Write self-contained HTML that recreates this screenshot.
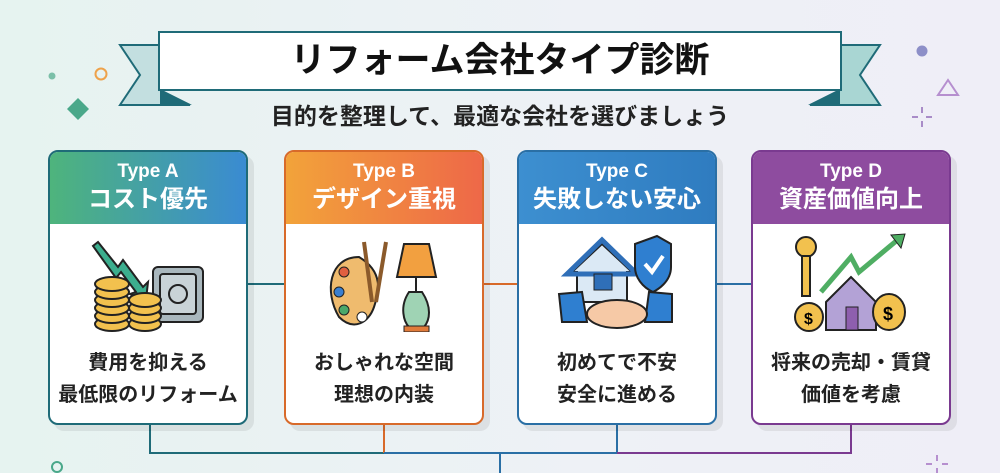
<!DOCTYPE html>
<html><head><meta charset="utf-8"><style>
body{margin:0;width:1000px;height:473px;overflow:hidden;background:linear-gradient(90deg,#e6f3f0,#eef1f6 60%,#efeef7);font-family:"Liberation Sans","Noto Sans CJK JP",sans-serif;position:relative}
.abs{position:absolute}
.title{left:158px;top:31px;width:680px;height:56px;background:#fff;border:2px solid #1f6b78;text-align:center;font-size:35px;font-weight:bold;line-height:56px;color:#111}
.sub{left:0;width:1000px;top:97px;text-align:center;font-size:23px;font-weight:bold;color:#222}
.card{width:196px;height:271px;background:#fff;border:2px solid;border-radius:10px;overflow:hidden;box-shadow:6px 6px 0 rgba(0,0,0,0.07)}
.hd{height:72px;color:#fff;text-align:center;font-weight:bold}
.hd .t{font-size:19px;padding-top:9px;line-height:22px}
.hd .n{font-size:24px;line-height:34px}
.bd{text-align:center;font-size:20px;font-weight:bold;color:#222;line-height:32px;position:absolute;top:195px;width:100%}
.ic{position:absolute;top:80px;left:38px}
</style></head><body>
<svg class="abs" style="left:0;top:0" width="1000" height="473">
<polygon points="120,45 160,45 160,90 190,105 120,105 140,75" fill="#c3dfe0" stroke="#1f6b78" stroke-width="2"/>
<polygon points="160,90 192,105 160,105" fill="#1f6b78"/>
<polygon points="880,45 840,45 840,90 810,105 880,105 860,75" fill="#a9d6d3" stroke="#1f6b78" stroke-width="2"/>
<polygon points="840,90 808,105 840,105" fill="#1f6b78"/>
<circle cx="52" cy="76" r="3.5" fill="#7bbfa8"/>
<circle cx="101" cy="74" r="5.5" fill="none" stroke="#eea24b" stroke-width="2"/>
<polygon points="78,98 89,109 78,120 67,109" fill="#4aa88a"/>
<circle cx="922" cy="51" r="5.5" fill="#8d8fc8"/>
<polygon points="948,80 958,95 938,95" fill="none" stroke="#b68fcf" stroke-width="2"/>
<g stroke="#a98cc8" stroke-width="2"><line x1="922" y1="107" x2="922" y2="113"/><line x1="922" y1="121" x2="922" y2="127"/><line x1="912" y1="117" x2="918" y2="117"/><line x1="926" y1="117" x2="932" y2="117"/></g>
<circle cx="57" cy="467" r="5" fill="none" stroke="#4aa88a" stroke-width="2"/>
<g stroke="#b68fcf" stroke-width="2"><line x1="937" y1="455" x2="937" y2="461"/><line x1="937" y1="468" x2="937" y2="473"/><line x1="926" y1="464" x2="932" y2="464"/><line x1="942" y1="464" x2="948" y2="464"/></g>
<line x1="248" y1="284" x2="286" y2="284" stroke="#1f6b78" stroke-width="2"/>
<line x1="484" y1="284" x2="518" y2="284" stroke="#d86a2a" stroke-width="2"/>
<line x1="716" y1="284" x2="752" y2="284" stroke="#2a6fa5" stroke-width="2"/>
<g fill="none" stroke-width="2">
<polyline points="150,425 150,453 384,453" stroke="#1f6b78"/>
<polyline points="384,425 384,453" stroke="#d86a2a"/>
<polyline points="384,453 617,453 617,425" stroke="#2a6fa5"/>
<polyline points="617,453 851,453 851,425" stroke="#7a3a90"/>
<line x1="500" y1="453" x2="500" y2="473" stroke="#2a6fa5"/>
</g>
</svg>
<div class="abs title">リフォーム会社タイプ診断</div>
<div class="abs sub">目的を整理して、最適な会社を選びましょう</div>

<div class="abs card" style="left:48px;top:150px;border-color:#1f6b78">
<div class="hd" style="background:linear-gradient(90deg,#4eb47c,#3a8bd2)"><div class="t">Type A</div><div class="n">コスト優先</div></div>
<svg class="ic" width="130" height="105" viewBox="0 0 130 105">
<polygon points="10,10 30,35 35,28 55,55 60,50 58,68 42,62 48,60 33,40 28,46 5,14" fill="#3cae8e" stroke="#222" stroke-width="2"/>
<rect x="65" y="35" width="50" height="55" rx="5" fill="#a9b7bd" stroke="#222" stroke-width="2"/>
<rect x="72" y="42" width="36" height="40" rx="3" fill="#c9d3d7" stroke="#222" stroke-width="2"/>
<circle cx="90" cy="62" r="9" fill="none" stroke="#222" stroke-width="2"/>
<g fill="#f2c14e" stroke="#222" stroke-width="2">
<ellipse cx="24" cy="92" rx="17" ry="7"/><ellipse cx="24" cy="84" rx="17" ry="7"/><ellipse cx="24" cy="76" rx="17" ry="7"/><ellipse cx="24" cy="68" rx="17" ry="7"/><ellipse cx="24" cy="60" rx="17" ry="7"/><ellipse cx="24" cy="52" rx="17" ry="7"/>
<ellipse cx="57" cy="92" rx="16" ry="7"/><ellipse cx="57" cy="84" rx="16" ry="7"/><ellipse cx="57" cy="76" rx="16" ry="7"/><ellipse cx="57" cy="68" rx="16" ry="7"/></g>
</svg>
<div class="bd">費用を抑える<br>最低限のリフォーム</div></div>

<div class="abs card" style="left:284px;top:150px;border-color:#d86a2a">
<div class="hd" style="background:linear-gradient(90deg,#f2a33a,#ee6848)"><div class="t">Type B</div><div class="n">デザイン重視</div></div>
<svg class="ic" width="120" height="100" viewBox="0 0 120 100">
<path d="M35 25 C5 25 0 60 15 85 C30 100 45 90 50 75 C55 60 60 40 35 25Z" fill="#efbb6e" stroke="#222" stroke-width="2"/>
<circle cx="15" cy="60" r="5" fill="#3a7fd0" stroke="#222"/><circle cx="20" cy="40" r="5" fill="#e06040" stroke="#222"/><circle cx="20" cy="78" r="5" fill="#4aa86a" stroke="#222"/><circle cx="38" cy="85" r="5" fill="#fff" stroke="#222"/>
<line x1="40" y1="10" x2="48" y2="70" stroke="#8b5a2b" stroke-width="4"/><line x1="62" y1="10" x2="52" y2="70" stroke="#8b5a2b" stroke-width="4"/>
<polygon points="80,12 105,12 112,45 73,45" fill="#f2a040" stroke="#222" stroke-width="2"/>
<line x1="92" y1="45" x2="92" y2="60" stroke="#222" stroke-width="2"/>
<path d="M85 60 C75 75 80 90 85 95 L100 95 C106 88 108 75 98 60Z" fill="#9fd3b4" stroke="#222" stroke-width="2"/>
<rect x="80" y="94" width="25" height="6" fill="#e07b3a" stroke="#222"/>
</svg>
<div class="bd">おしゃれな空間<br>理想の内装</div></div>

<div class="abs card" style="left:517px;top:150px;border-color:#2a6fa5">
<div class="hd" style="background:linear-gradient(90deg,#3d8fd0,#2f7cc0)"><div class="t">Type C</div><div class="n">失敗しない安心</div></div>
<svg class="ic" width="120" height="100" viewBox="0 0 120 100">
<polygon points="15,40 45,12 75,40 70,40 70,70 20,70 20,40" fill="#dbe9f5" stroke="#222" stroke-width="2"/>
<polygon points="10,42 45,8 80,42" fill="none" stroke="#2f6fb8" stroke-width="5"/>
<rect x="37" y="42" width="18" height="16" fill="#2f6fb8" stroke="#222"/>
<path d="M78 12 L100 4 L114 12 L114 35 C114 50 100 58 96 60 C85 55 78 45 78 35Z" fill="#2f7fd0" stroke="#222" stroke-width="2"/>
<polyline points="88,32 95,40 106,24" fill="none" stroke="#fff" stroke-width="4"/>
<polygon points="2,62 25,60 30,90 5,90" fill="#2f7fd0" stroke="#222" stroke-width="2"/>
<polygon points="115,62 92,60 88,90 115,90" fill="#2f7fd0" stroke="#222" stroke-width="2"/>
<ellipse cx="60" cy="82" rx="30" ry="14" fill="#f6c9a6" stroke="#222" stroke-width="2"/>
</svg>
<div class="bd">初めてで不安<br>安全に進める</div></div>

<div class="abs card" style="left:751px;top:150px;border-color:#7a3a90">
<div class="hd" style="background:#8e4c9f"><div class="t">Type D</div><div class="n">資産価値向上</div></div>
<svg class="ic" width="120" height="100" viewBox="0 0 120 100">
<circle cx="15" cy="15" r="10" fill="#f2c14e" stroke="#222" stroke-width="2"/>
<rect x="11" y="24" width="8" height="40" fill="#f2c14e" stroke="#222" stroke-width="2"/>
<polyline points="30,60 60,25 68,40 110,5" fill="none" stroke="#4fae63" stroke-width="5"/>
<polygon points="100,3 114,2 110,16" fill="#4fae63" stroke="#222"/>
<polygon points="35,70 60,45 85,70 85,98 35,98" fill="#b3a2d6" stroke="#222" stroke-width="2"/>
<rect x="55" y="75" width="12" height="23" fill="#8e5fae" stroke="#222"/>
<ellipse cx="18" cy="85" rx="14" ry="14" fill="#f2c14e" stroke="#222" stroke-width="2"/>
<ellipse cx="98" cy="80" rx="16" ry="18" fill="#f2c14e" stroke="#222" stroke-width="2"/>
<text x="13" y="92" font-size="16" font-weight="bold" font-family="Liberation Sans">$</text>
<text x="92" y="88" font-size="18" font-weight="bold" font-family="Liberation Sans">$</text>
</svg>
<div class="bd">将来の売却・賃貸<br>価値を考慮</div></div>
</body></html>
